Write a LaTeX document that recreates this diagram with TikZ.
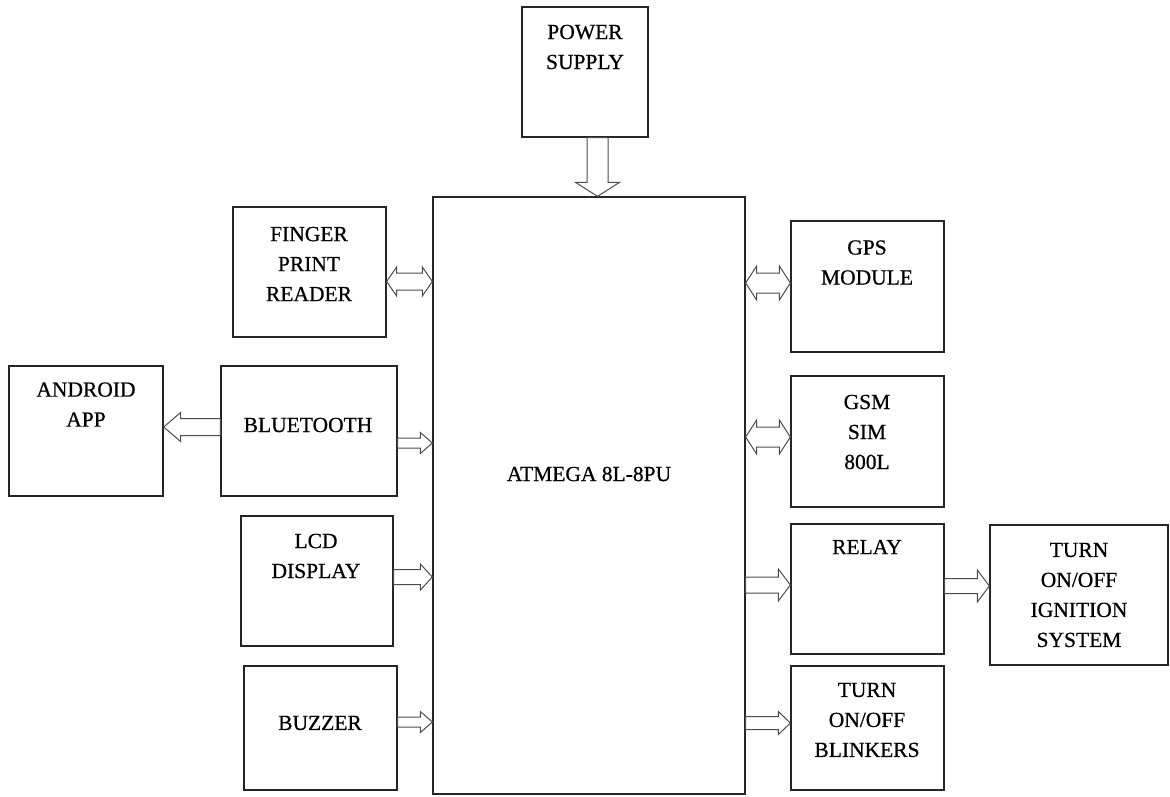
\documentclass[tikz,border=0pt]{standalone}
\usepackage{fontspec}
\setmainfont{Liberation Serif}
\newfontfamily\boxfont[FakeBold=0.6]{Liberation Serif}
\usetikzlibrary{calc}

\tikzset{
  blk/.style={draw=black!85, line width=1.3pt, inner sep=0pt},
  txt/.style={align=center, inner sep=0pt, font=\boxfont\fontsize{21.5}{30}\selectfont},
  barrow/.style={draw=black!70, line width=1pt, fill=white, line join=miter},
}

% block arrow: start, tip, shaft half width, head half width, head length
\newcommand{\harrow}[5]{%
  \draw[barrow] let \p1=(#1), \p2=(#2) in
    (\x1,{\y2+#3}) -- ({\x2-(#5)},{\y2+#3}) -- ({\x2-(#5)},{\y2+#4}) -- (\p2)
    -- ({\x2-(#5)},{\y2-#4}) -- ({\x2-(#5)},{\y2-#3}) -- (\x1,{\y2-#3}) -- cycle;}
% two-headed block arrow, same arguments
\newcommand{\hdarrow}[5]{%
  \draw[barrow] let \p1=(#1), \p2=(#2) in
    (\p1) -- ({\x1+#5},{\y1+#4}) -- ({\x1+#5},{\y1+#3}) -- ({\x2-#5},{\y1+#3})
    -- ({\x2-#5},{\y1+#4}) -- (\p2) -- ({\x2-#5},{\y1-#4}) -- ({\x2-#5},{\y1-#3})
    -- ({\x1+#5},{\y1-#3}) -- ({\x1+#5},{\y1-#4}) -- cycle;}

\begin{document}
\begin{tikzpicture}[x=1pt, y=-1pt]
    \useasboundingbox (0,0) rectangle (1170,796);

    % ---------- blocks ----------
    \node[blk, minimum width=126pt, minimum height=130pt] (power) at (585,72) {};
    \node[blk, minimum width=312pt, minimum height=597pt] (mcu) at (589,495.5) {};
    \node[blk, minimum width=153pt, minimum height=130pt] (finger) at (309.5,272) {};
    \node[blk, minimum width=154pt, minimum height=130pt] (android) at (86,431) {};
    \node[blk, minimum width=176pt, minimum height=130pt] (blue) at (309,431) {};
    \node[blk, minimum width=152pt, minimum height=130pt] (lcd) at (317,581) {};
    \node[blk, minimum width=153pt, minimum height=124pt] (buzzer) at (320.5,728) {};
    \node[blk, minimum width=153pt, minimum height=131pt] (gps) at (867.5,286.5) {};
    \node[blk, minimum width=153pt, minimum height=131pt] (gsm) at (867.5,441.5) {};
    \node[blk, minimum width=153pt, minimum height=130pt] (relay) at (867.5,589) {};
    \node[blk, minimum width=153pt, minimum height=124pt] (blink) at (867.5,728) {};
    \node[blk, minimum width=178pt, minimum height=140pt] (ign) at (1079,595) {};

    % ---------- texts ----------
    \node[txt] (powertxt) at (585,47) {POWER\\SUPPLY};
    \node[txt] (mcutxt) at (589,474) {ATMEGA 8L-8PU};
    \node[txt] (fingertxt) at (309,264) {FINGER\\PRINT\\READER};
    \node[txt] (androidtxt) at (86,404.5) {ANDROID\\APP};
    \node[txt] (bluetxt) at (308,425) {BLUETOOTH};
    \node[txt] (lcdtxt) at (316,556) {LCD\\DISPLAY};
    \node[txt] (buzzertxt) at (320,723) {BUZZER};
    \node[txt] (gpstxt) at (867,262.5) {GPS\\MODULE};
    \node[txt] (gsmtxt) at (867,432) {GSM\\SIM\\800L};
    \node[txt] (relaytxt) at (867,547) {RELAY};
    \node[txt] (blinktxt) at (867,720) {TURN\\ON/OFF\\BLINKERS};
    \node[txt] (igntxt) at (1079,595) {TURN\\ON/OFF\\IGNITION\\SYSTEM};

    % ---------- arrows ----------
    \draw[barrow] let \p1=(597.5,0 |- power.south), \p2=(597.5,0 |- mcu.north) in
        ({\x1-10.5pt},\y1) -- ({\x1-10.5pt},{\y2+14pt}) -- ({\x1-22pt},{\y2+14pt}) -- (\p2)
        -- ({\x1+22pt},{\y2+14pt}) -- ({\x1+10.5pt},{\y2+14pt}) -- ({\x1+10.5pt},\y1) -- cycle;
    \hdarrow{finger.east |- 0,281.5}{mcu.west |- 0,281.5}{8.5pt}{14.5pt}{10pt}
    \harrow{blue.west |- 0,427}{android.east |- 0,427}{8.5pt}{14.5pt}{-17pt}
    \harrow{blue.east |- 0,443}{mcu.west |- 0,443}{5pt}{10.5pt}{12pt}
    \harrow{lcd.east |- 0,577}{mcu.west |- 0,577}{7.5pt}{13pt}{12pt}
    \harrow{buzzer.east |- 0,722}{mcu.west |- 0,722}{5pt}{10.5pt}{12pt}
    \hdarrow{mcu.east |- 0,283}{gps.west |- 0,283}{10pt}{17pt}{11pt}
    \hdarrow{mcu.east |- 0,437}{gsm.west |- 0,437}{10pt}{17pt}{11pt}
    \harrow{mcu.east |- 0,585}{relay.west |- 0,585}{8pt}{16pt}{12pt}
    \harrow{mcu.east |- 0,723}{blink.west |- 0,723}{6.5pt}{11.5pt}{12pt}
    \harrow{relay.east |- 0,586}{ign.west |- 0,586}{7.5pt}{16pt}{12pt}
\end{tikzpicture}
\end{document}
